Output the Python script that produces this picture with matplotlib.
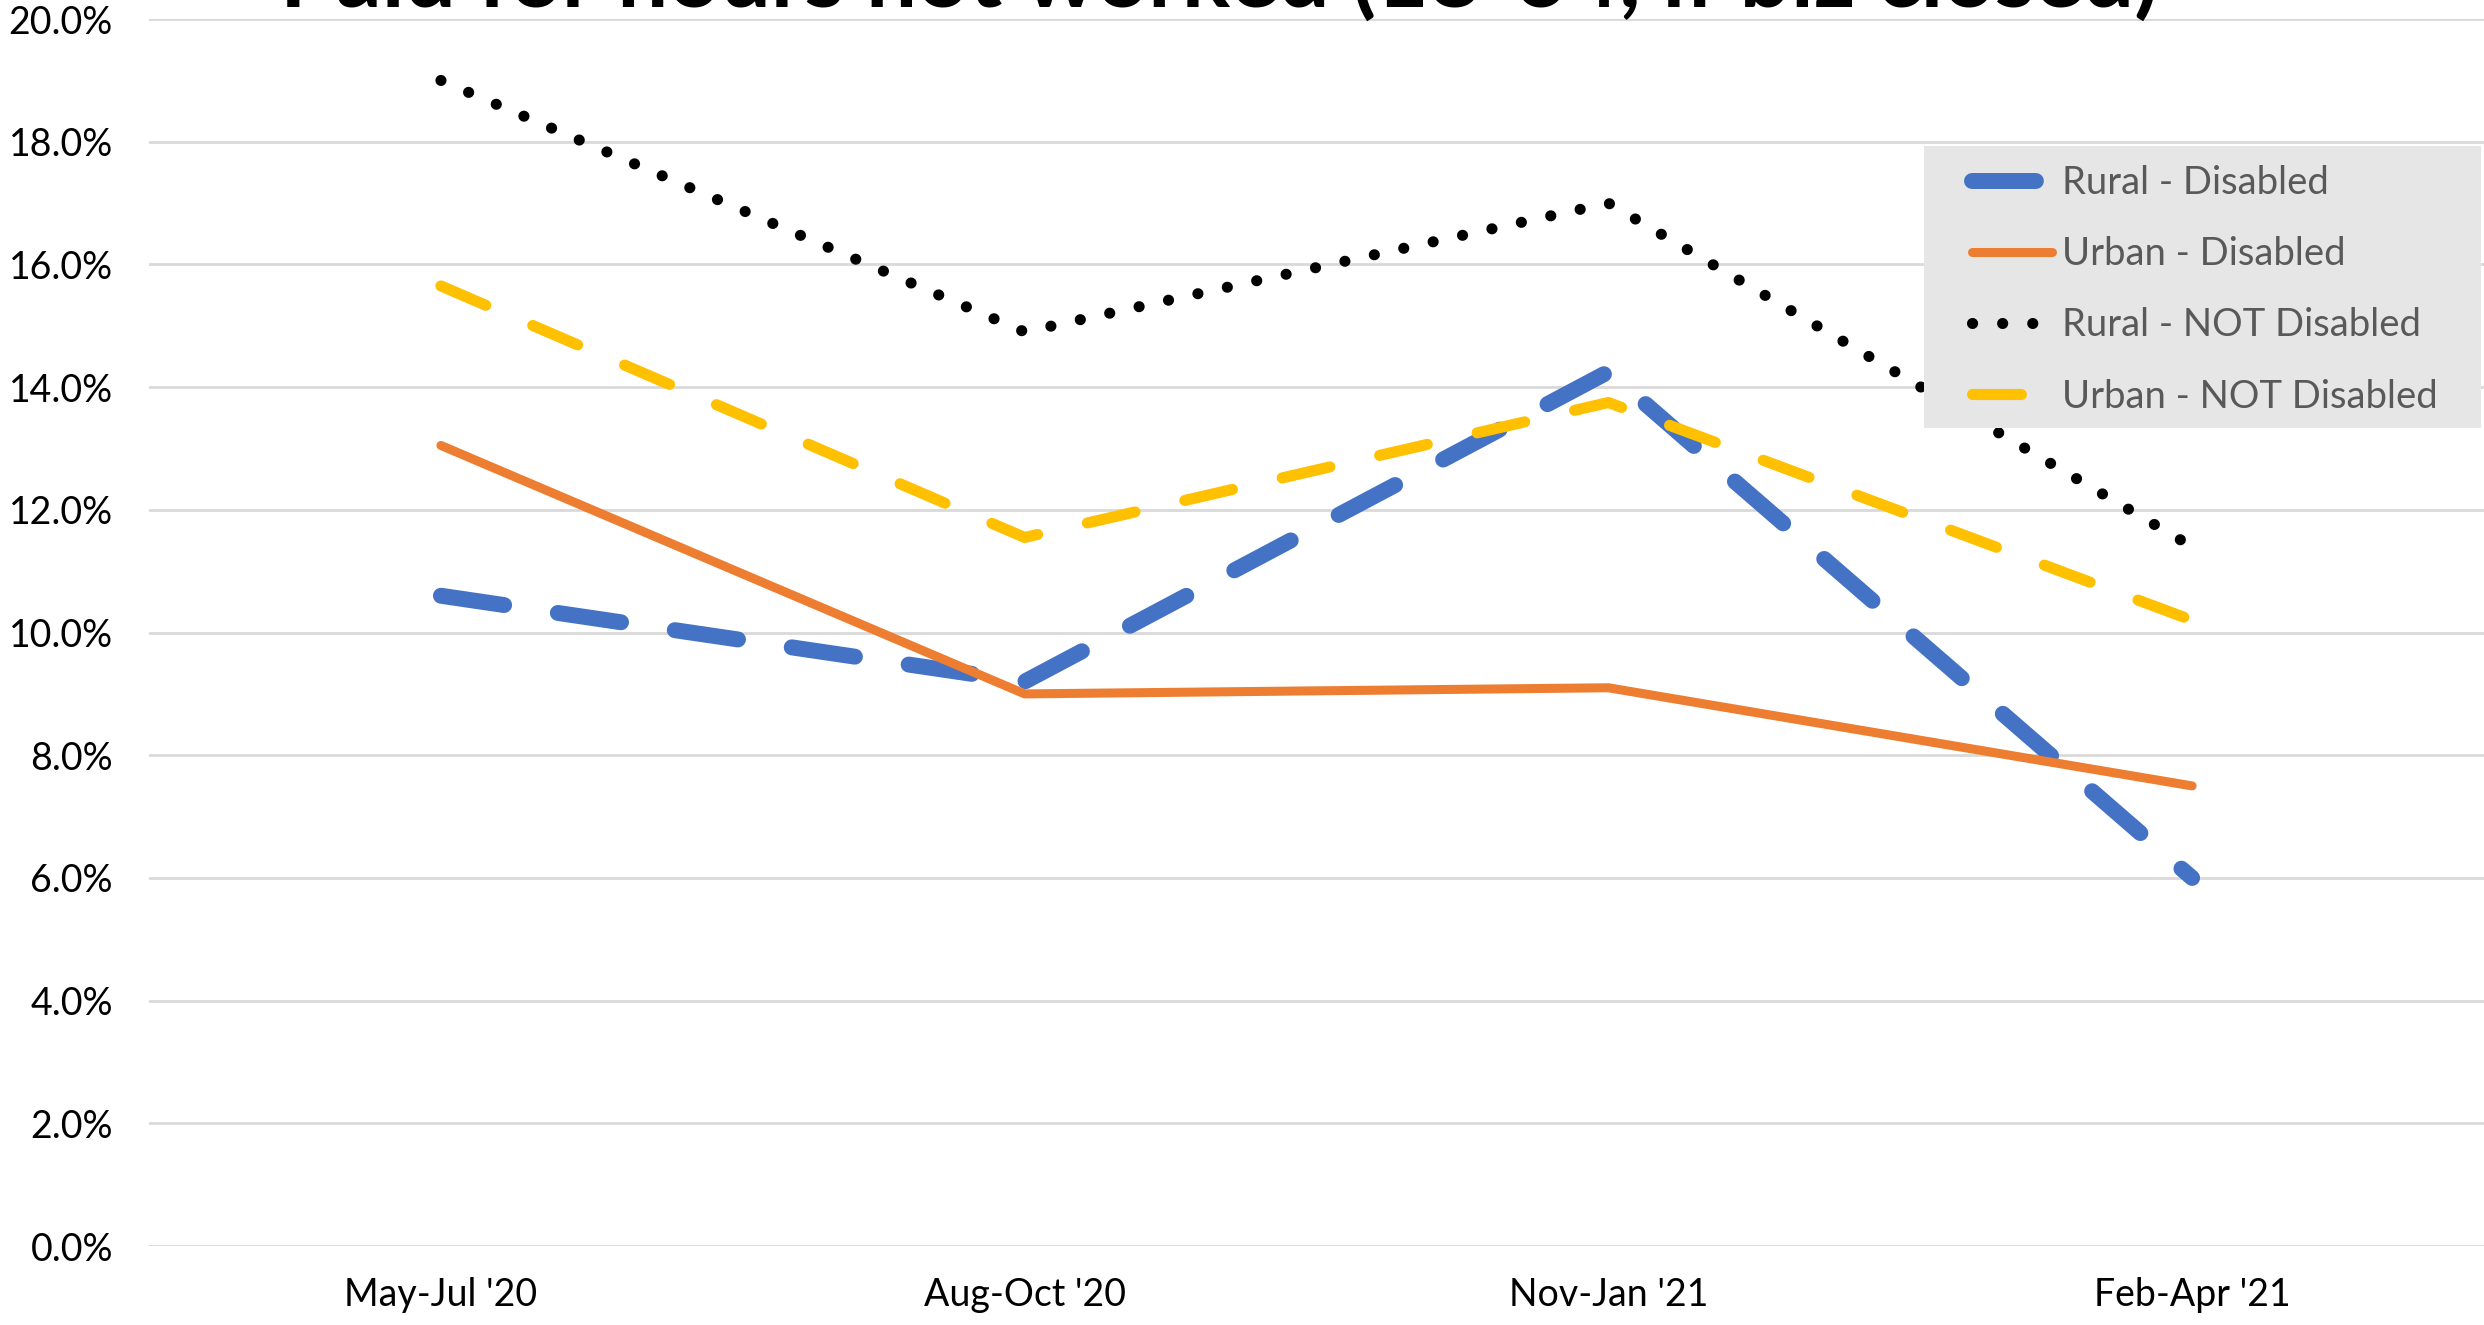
import matplotlib
matplotlib.use("Agg")
import matplotlib.pyplot as plt
from matplotlib.patches import Rectangle
from matplotlib.ticker import FuncFormatter

# data (percent)
periods = ["May-Jul '20", "Aug-Oct '20", "Nov-Jan '21", "Feb-Apr '21"]
rural_disabled = [10.6, 9.2, 14.25, 6.0]
urban_disabled = [13.05, 9.0, 9.1, 7.5]
rural_not_disabled = [19.0, 14.9, 17.0, 11.4]
urban_not_disabled = [15.65, 11.55, 13.75, 10.2]

plt.rcParams['font.family'] = ['Lato', 'DejaVu Sans']

fig = plt.figure(figsize=(24.84, 13.25), dpi=100)
ax = fig.add_axes([0.06, 0.0596, 0.94, 0.926])

x = range(len(periods))

l1, = ax.plot(x, rural_disabled, color='#4472C4', lw=11.5, label='Rural - Disabled',
              dash_capstyle='round', solid_capstyle='round')
l1.set_dashes((4.0, 3.4))
l2, = ax.plot(x, urban_disabled, color='#ED7D31', lw=6.5, label='Urban - Disabled',
              solid_capstyle='round')
l3, = ax.plot(x, rural_not_disabled, color='black', lw=8, label='Rural - NOT Disabled',
              dash_capstyle='round')
l3.set_dashes((0.01, 2.7))
l4, = ax.plot(x, urban_not_disabled, color='#FFC000', lw=8, label='Urban - NOT Disabled',
              dash_capstyle='round')
l4.set_dashes((4.4, 4.6))

ax.set_xlim(-0.5, 3.5)
ax.set_ylim(0, 20)
ax.set_yticks(range(0, 21, 2))
ax.yaxis.set_major_formatter(FuncFormatter(lambda v, p: '{:.1f}%'.format(v)))
ax.set_xticks(list(x))
ax.set_xticklabels(periods)
ax.tick_params(axis='both', length=0, labelsize=27, colors='black')
ax.tick_params(axis='y', pad=26)
ax.tick_params(axis='x', pad=22)

ax.grid(axis='y', color='#d9d9d9', lw=2)
ax.set_axisbelow(True)
for s in ax.spines.values():
    s.set_visible(False)

# grey legend panel, drawn on its own so the entries can sit inset like Excel's
ax.add_patch(Rectangle((0.76, 0.667), 0.2387, 0.2295, transform=ax.transAxes,
                       facecolor='#e6e6e6', edgecolor='none', zorder=4))
leg = ax.legend(loc='upper left', bbox_to_anchor=(0.7807, 0.881),
                fontsize=27.5, frameon=False,
                handlelength=2.1, handletextpad=0.25, labelspacing=0.92,
                borderpad=0, borderaxespad=0)
leg.set_zorder(5)
for t in leg.get_texts():
    t.set_color('#595959')

fig.text(0.491, 0.994, 'Paid for hours not worked (18-64, if biz closed)',
         ha='center', va='baseline', fontsize=65, fontweight='bold')

fig.savefig('out.png', dpi=100)
